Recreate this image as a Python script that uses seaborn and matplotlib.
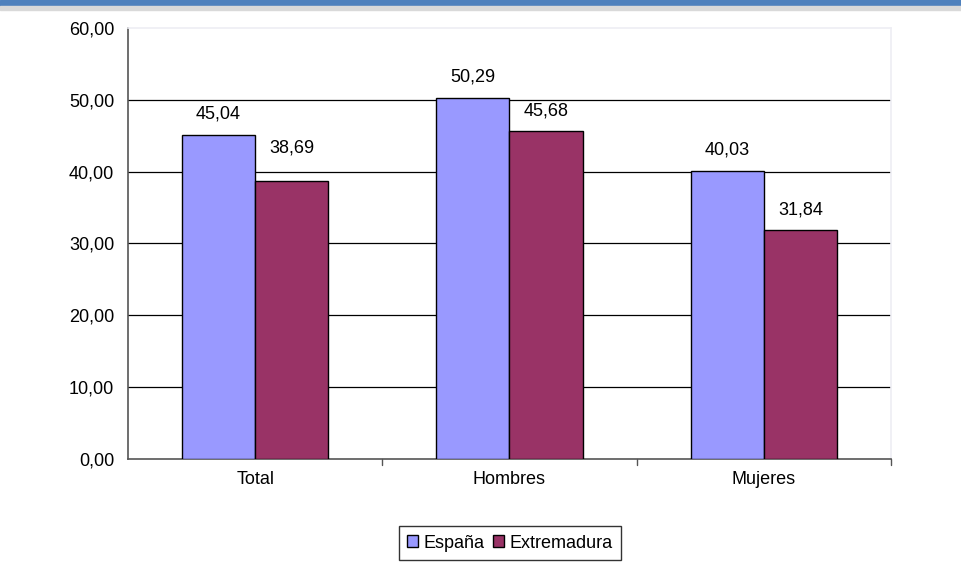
import numpy as np
import pandas as pd
import matplotlib.pyplot as plt
import seaborn as sns

# Datos
categorias = ['Total', 'Hombres', 'Mujeres']
espana = [45.04, 50.29, 40.03]
extremadura = [38.69, 45.68, 31.84]
series = ['España', 'Extremadura']
colores = ['#9999FF', '#993366']

df = pd.DataFrame({
    'categoria': categorias * 2,
    'valor': espana + extremadura,
    'serie': [series[0]] * 3 + [series[1]] * 3,
})

sns.set_style('white')
plt.rcParams['font.family'] = ['Liberation Sans', 'DejaVu Sans']
plt.rcParams['text.color'] = 'black'
plt.rcParams['xtick.labelcolor'] = 'black'
plt.rcParams['ytick.labelcolor'] = 'black'

fig = plt.figure(figsize=(9.62, 5.72), dpi=100)
# banda azul superior
fig.patches.append(plt.Rectangle((0, 1 - 6 / 572), 1, 6 / 572, transform=fig.transFigure,
                                 color='#4F81BD', zorder=0))
fig.patches.append(plt.Rectangle((0, 1 - 10 / 572), 1, 4 / 572, transform=fig.transFigure,
                                 color='#D9D9D9', zorder=0))

ax = fig.add_axes([128 / 962, 1 - 459 / 572, 763 / 962, 431 / 572])

sns.barplot(data=df, x='categoria', y='valor', hue='serie', order=categorias,
            hue_order=series, palette=colores, width=0.575, edgecolor='black',
            linewidth=1, saturation=1, ax=ax, zorder=3)

fs = 13
ax.set_ylim(0, 60)
ax.set_xlim(-0.5, 2.5)
ax.set_yticks(np.arange(0, 61, 10))
ax.set_yticklabels([f'{v:.2f}'.replace('.', ',') for v in np.arange(0, 61, 10)], fontsize=fs)
ax.tick_params(axis='x', labelsize=fs, length=0, pad=9, labelcolor='black')
ax.tick_params(axis='y', length=5, width=1, color='#555555', direction='out', pad=5,
               labelcolor='black')

for y in range(10, 60, 10):
    ax.axhline(y, color='black', linewidth=0.9, zorder=1)

# marcas entre categorías
for xb in [0.5, 1.5, 2.5]:
    ax.plot([xb, xb], [0, -0.9], color='#555555', linewidth=1, clip_on=False, zorder=4)

ax.spines['left'].set_color('#555555')
ax.spines['bottom'].set_color('#555555')
ax.spines['top'].set_color('#EEEEF4')
ax.spines['right'].set_color('#EEEEF4')
for s in ax.spines.values():
    s.set_linewidth(1.2)

# etiquetas de datos (separación en píxeles como en el original)
separacion = [[21, 21, 21], [33, 20, 20]]
for cont, sep in zip(ax.containers, separacion):
    for barra, v, d in zip(cont.patches, cont.datavalues, sep):
        ax.annotate(f'{v:.2f}'.replace('.', ','),
                    (barra.get_x() + barra.get_width() / 2, barra.get_height()),
                    xytext=(0, d * 0.72), textcoords='offset points',
                    ha='center', va='center', fontsize=fs, color='black')

ax.set_xlabel('')
ax.set_ylabel('')

leg = ax.legend(loc='center', bbox_to_anchor=(510 / 962, 1 - 543 / 572),
                bbox_transform=fig.transFigure, ncol=2, frameon=True, fontsize=fs,
                handlelength=0.6, handleheight=0.6, handletextpad=0.3,
                columnspacing=0.5, borderpad=0.45, fancybox=False)
leg.get_frame().set_edgecolor('black')
leg.get_frame().set_linewidth(1)
for t in leg.get_texts():
    t.set_color('black')

plt.savefig('out.png', dpi=100)
